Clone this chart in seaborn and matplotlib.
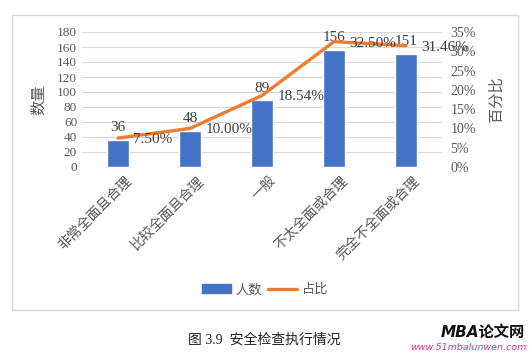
import matplotlib
matplotlib.use('Agg')
import matplotlib.pyplot as plt
import matplotlib.transforms as mtransforms
import seaborn as sns
import numpy as np
from matplotlib.patches import Rectangle, Patch
from matplotlib.lines import Line2D
from matplotlib.ticker import PercentFormatter

# data
categories = ['非常全面且合理', '比较全面且合理', '一般', '不太全面或合理', '完全不全面或合理']
counts = [36, 48, 89, 156, 151]
shares = [7.50, 10.00, 18.54, 32.50, 31.46]

sns.set_theme(style='white')
plt.rcParams['font.family'] = ['Liberation Serif', 'Noto Sans CJK SC', 'DejaVu Sans']

BLUE = '#4472C4'
ORANGE = '#ED7D31'
GREY = '#595959'

W, H = 530, 354
fig = plt.figure(figsize=(W / 100, H / 100), dpi=100)

# outer chart frame
fig.patches.append(Rectangle((12 / W, 1 - 310 / H), 506 / W, 295 / H,
                             transform=fig.transFigure, fill=False,
                             edgecolor='#d9d9d9', linewidth=1))

ax = fig.add_axes([82 / W, 1 - 167 / H, 360 / W, 135 / H])
sns.barplot(x=categories, y=counts, color=BLUE, width=0.31, saturation=1, ax=ax)
ax.set_ylim(0, 180)
ax.set_yticks(np.arange(0, 181, 20))
ax.set_xlim(-0.5, 4.5)
ax.grid(axis='y', color='#d9d9d9', linewidth=0.8)
ax.set_axisbelow(True)
for s in ax.spines.values():
    s.set_visible(False)
ax.tick_params(axis='both', length=0, colors=GREY, labelsize=9.5)
ax.set_xlabel('')
ax.set_ylabel('数量', color=GREY, fontsize=11, labelpad=8)
ax.set_xticks(range(len(categories)))
ax.set_xticklabels(categories, rotation=45, ha='right', rotation_mode='anchor',
                   fontsize=10)
ax.tick_params(axis='x', pad=5)
# Excel puts the end of the rotated label a little right of the tick
shift = mtransforms.ScaledTranslation(7 / 100, 0, fig.dpi_scale_trans)
for lab in ax.get_xticklabels():
    lab.set_transform(lab.get_transform() + shift)

for i, v in enumerate(counts):
    ax.annotate(str(v), (i, v), xytext=(0, 4), textcoords='offset points',
                ha='center', va='bottom', fontsize=11, color='#404040')

ax2 = ax.twinx()
sns.lineplot(x=list(range(len(categories))), y=shares, color=ORANGE,
             linewidth=2.4, ax=ax2, sort=False)
ax2.set_ylim(0, 35)
ax2.set_yticks(np.arange(0, 36, 5))
ax2.yaxis.set_major_formatter(PercentFormatter(decimals=0))
for s in ax2.spines.values():
    s.set_visible(False)
ax2.tick_params(axis='y', length=0, colors=GREY, labelsize=10, pad=6)
ax2.set_ylabel('百分比', color=GREY, fontsize=11, rotation=90, labelpad=10)

for i, v in enumerate(shares):
    ax2.annotate(f'{v:.2f}%', (i, v), xytext=(11, -1), textcoords='offset points',
                 ha='left', va='center', fontsize=11, color='#404040')

handles = [Patch(color=BLUE), Line2D([0], [0], color=ORANGE, linewidth=2.4)]
fig.legend(handles, ['人数', '占比'], loc='center', bbox_to_anchor=(265 / W, 1 - 290 / H),
           ncol=2, frameon=False, fontsize=9.5, labelcolor=GREY,
           handlelength=2.2, handletextpad=0.4, columnspacing=0.4)

fig.text(264 / W, 1 - 340 / H, '图 3.9  安全检查执行情况', ha='center', va='center',
         fontsize=10, color='#222222')
fig.text(525 / W, 1 - 332 / H, 'MBA论文网', ha='right', va='center', fontsize=11,
         fontweight='bold', style='italic', color='#111111',
         family=['DejaVu Sans', 'Noto Sans CJK SC'])
fig.text(527 / W, 1 - 347 / H, 'www.51mbalunwen.com', ha='right', va='center',
         fontsize=6.8, style='italic', color='#e0388a', family=['DejaVu Sans'])

fig.savefig('out.png', dpi=100)
